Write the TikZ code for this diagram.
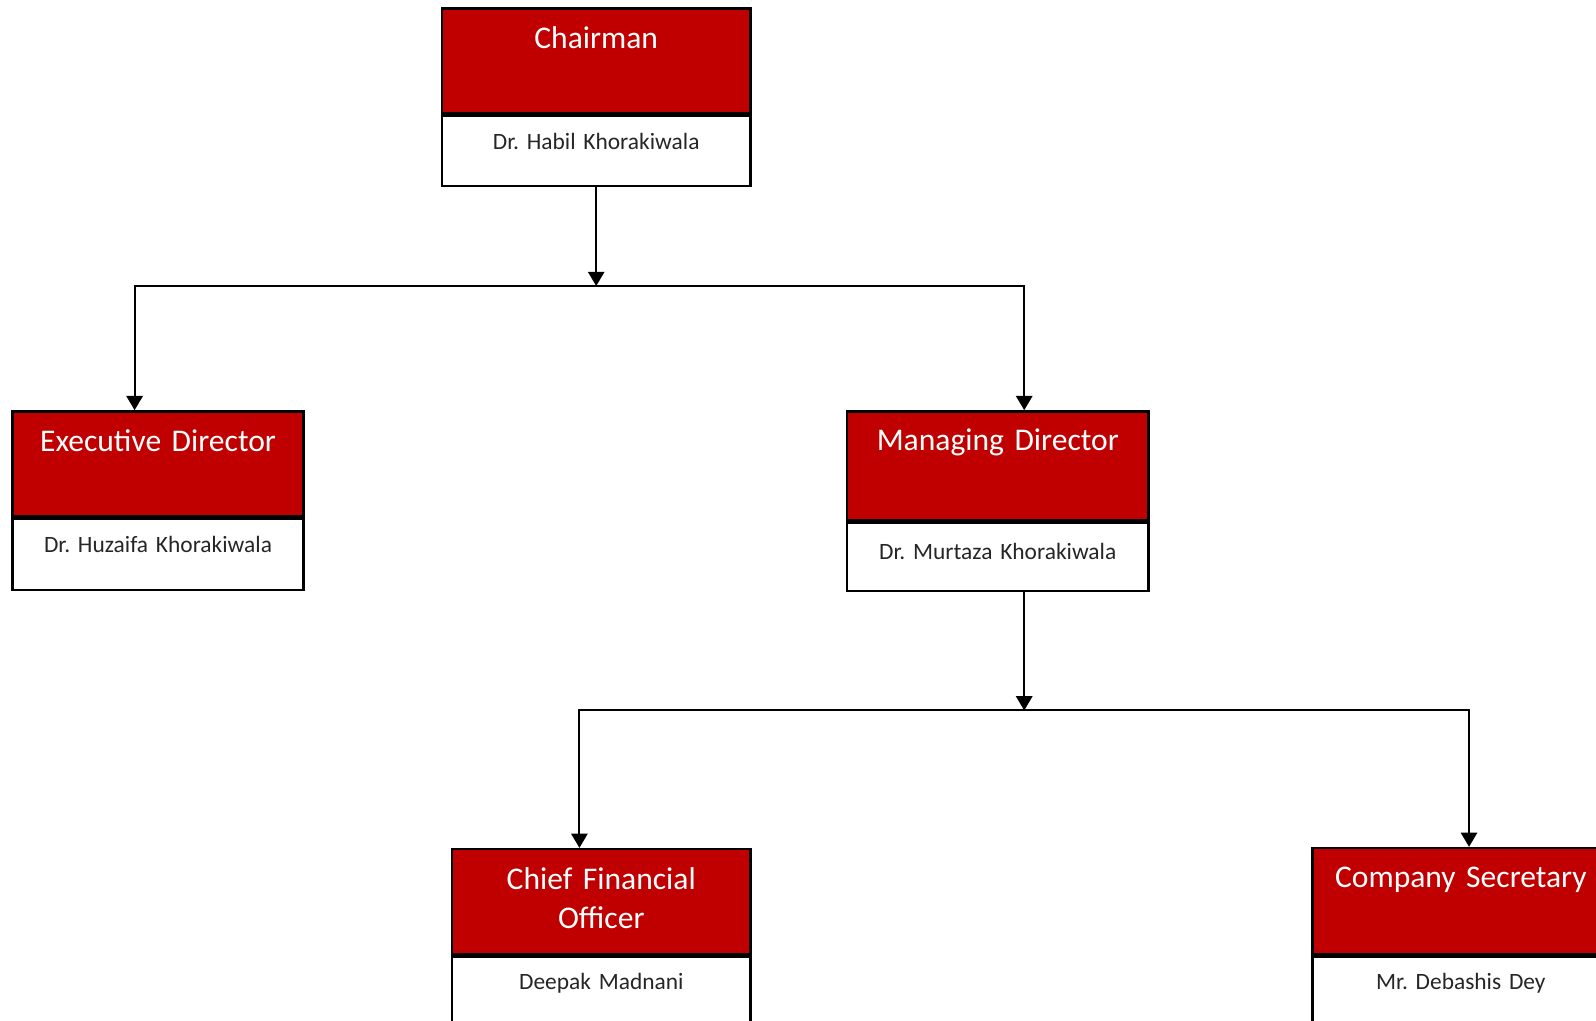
\documentclass[tikz,border=0pt]{standalone}
\usepackage{fontspec}
\setmainfont{Carlito}
\usetikzlibrary{arrows.meta}
\definecolor{boardred}{RGB}{192,0,0}
\definecolor{nametext}{RGB}{38,38,38}
\tikzset{
    head/.style={draw=black, line width=2.5pt, fill=boardred, text=white, anchor=north west,
        inner xsep=0pt, inner ysep=0pt, align=center, font=\fontsize{31}{38}\selectfont\frenchspacing,
        text height=39pt},
    who/.style={draw=black, line width=2.5pt, fill=white, text=nametext, anchor=north,
        inner xsep=0pt, inner ysep=0pt, align=center, font=\fontsize{23}{28}\selectfont\frenchspacing,
        text height=33pt},
    link/.style={line width=2pt, -{Triangle[length=14pt,width=16pt]}}
}
\begin{document}
\begin{tikzpicture}[x=1pt, y=-1pt]
                \useasboundingbox (0,0) rectangle (1568,1003);
                \clip (0,0) rectangle (1568,1003);

                \node [head, text width=303pt, text depth=64pt] (chair) at (433,7) {Chairman};
                \node [who, text width=303pt, text depth=36pt] (chair-name) at (chair.south) {Dr. Habil Khorakiwala};

                \node [head, text width=286pt, text depth=64pt] (exec) at (11,403) {Executive Director};
                \node [who, text width=286pt, text depth=37pt] (exec-name) at (exec.south) {Dr. Huzaifa Khorakiwala};

                \node [head, text width=296pt, text height=38pt, text depth=69pt] (md) at (831,403) {Managing Director};
                \node [who, text width=296pt, text height=36pt, text depth=31pt] (md-name) at (md.south) {Dr. Murtaza Khorakiwala};

                \node [head, text width=293pt, text height=40pt, text depth=63pt] (cfo) at (443,833) {Chief Financial\\Officer};
                \node [who, text width=293pt, text height=32pt, text depth=50pt] (cfo-name) at (cfo.south) {Deepak Madnani};

                \node [head, text width=292pt, text depth=65pt] (cs) at (1288,832) {Company Secretary};
                \node [who, text width=292pt, text height=32pt, text depth=50pt] (cs-name) at (cs.south) {Mr. Debashis Dey};

                \coordinate (bus1) at ([yshift=-97pt]chair-name.south);
                \coordinate (md-out) at ([xshift=26pt]md-name.south);
                \coordinate (bus2) at ([yshift=-116pt]md-out);

                \draw [link] (chair-name.south) -- (bus1);
                \draw [link] (bus1) -| ([xshift=-23pt]exec.north);
                \draw [link] (bus1) -| ([xshift=26pt]md.north);

                \draw [link] (md-out) -- (bus2);
                \draw [link] (bus2) -| ([xshift=-21.5pt]cfo.north);
                \draw [link] (bus2) -| ([xshift=8pt]cs.north);
\end{tikzpicture}
\end{document}
